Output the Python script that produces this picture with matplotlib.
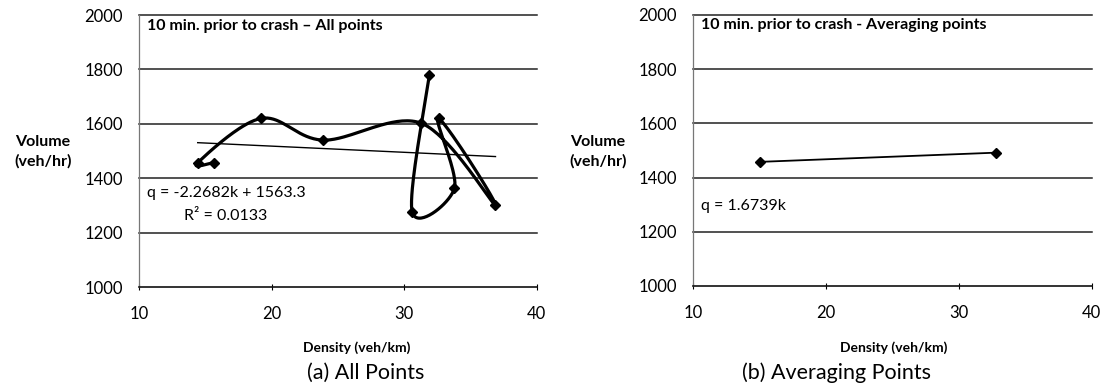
import numpy as np
import matplotlib
matplotlib.use("Agg")
import matplotlib.pyplot as plt

plt.rcParams['font.family'] = ['Lato', 'DejaVu Sans']

# (a) all points, in the order they were recorded
k_all = [15.6, 14.4, 19.2, 23.9, 31.3, 36.9, 32.6, 33.8, 30.6, 31.9]
q_all = [1457, 1457, 1620, 1540, 1602, 1301, 1620, 1363, 1277, 1779]
# linear trend for (a)
slope_a = -2.2682
icpt_a = 1563.3

# (b) averaged points
k_avg = [15.0, 32.8]
q_avg = [1458, 1492]

x_ticks = [10, 20, 30, 40]
y_ticks = [1000, 1200, 1400, 1600, 1800, 2000]


def smooth(xs, ys, n=40):
    # Catmull-Rom through the points, as a smoothed spreadsheet line
    p = np.column_stack([xs, ys]).astype(float)
    p = np.vstack([p[0], p, p[-1]])
    out = []
    t = np.linspace(0, 1, n)[:, None]
    for i in range(1, len(p) - 2):
        p0, p1, p2, p3 = p[i - 1], p[i], p[i + 1], p[i + 2]
        c1 = p1 + (p2 - p0) / 6
        c2 = p2 - (p3 - p1) / 6
        seg = ((1 - t) ** 3) * p1 + 3 * ((1 - t) ** 2) * t * c1 \
            + 3 * (1 - t) * t ** 2 * c2 + t ** 3 * p2
        out.append(seg)
    out = np.vstack(out)
    return out[:, 0], out[:, 1]


fig = plt.figure(figsize=(11.06, 3.89), dpi=100)
ax1 = fig.add_axes([0.1261, 0.2622, 0.3590, 0.6992])
ax2 = fig.add_axes([0.6269, 0.2648, 0.3602, 0.6967])


def style(ax):
    ax.set_xlim(10, 40)
    ax.set_ylim(1000, 2000)
    ax.set_xticks(x_ticks)
    ax.set_yticks(y_ticks)
    for y in y_ticks[1:]:
        ax.axhline(y, color='#222222', lw=1.1, zorder=1, clip_on=False)
    for s in ['top', 'right']:
        ax.spines[s].set_visible(False)
    ax.spines['left'].set_color('#777777')
    ax.spines['left'].set_linewidth(0.9)
    ax.spines['bottom'].set_color('#111111')
    ax.spines['bottom'].set_linewidth(1.2)
    ax.tick_params(axis='x', direction='inout', length=4, width=0.8,
                   pad=12, labelsize=12)
    ax.tick_params(axis='y', length=0, pad=12, labelsize=12)


style(ax1)
style(ax2)

# (a) all points
sx, sy = smooth(k_all, q_all)
ax1.plot(sx, sy, color='black', lw=2.3, zorder=3)
ax1.plot(k_all, q_all, 'D', color='black', ms=5.5, zorder=4)
kt = np.array([min(k_all), max(k_all)])
ax1.plot(kt, slope_a * kt + icpt_a, color='black', lw=1.0, zorder=2)
ax1.text(10.6, 1960, '10 min. prior to crash \u2013 All points',
         fontsize=11.5, fontweight='bold', va='center')
ax1.text(10.6, 1344, 'q = -2.2682k + 1563.3', fontsize=11.5, va='center')
ax1.text(13.4, 1262, 'R\u00b2 = 0.0133', fontsize=11.5, va='center')

# (b) averaging points
ax2.plot(k_avg, q_avg, color='black', lw=1.3, marker='D', ms=5.5, zorder=3)
ax2.text(10.6, 1963, '10 min. prior to crash - Averaging points',
         fontsize=11.5, fontweight='bold', va='center')
ax2.text(10.6, 1297, 'q = 1.6739k', fontsize=11.5, va='center')

# axis labels and captions
for xc in [43, 598]:
    fig.text(xc / 1106, 1 - 152 / 389, 'Volume\n(veh/hr)', ha='center',
             va='center', fontsize=11.5, fontweight='bold', linespacing=1.4)
for xc in [357, 894]:
    fig.text(xc / 1106, 1 - 348 / 389, 'Density (veh/km)', ha='center',
             va='center', fontsize=10, fontweight='bold')
fig.text(366 / 1106, 1 - 373 / 389, '(a) All Points', ha='center',
         va='center', fontsize=15.5)
fig.text(837 / 1106, 1 - 373 / 389, '(b) Averaging Points', ha='center',
         va='center', fontsize=15.5)

fig.savefig('out.png', dpi=100)
